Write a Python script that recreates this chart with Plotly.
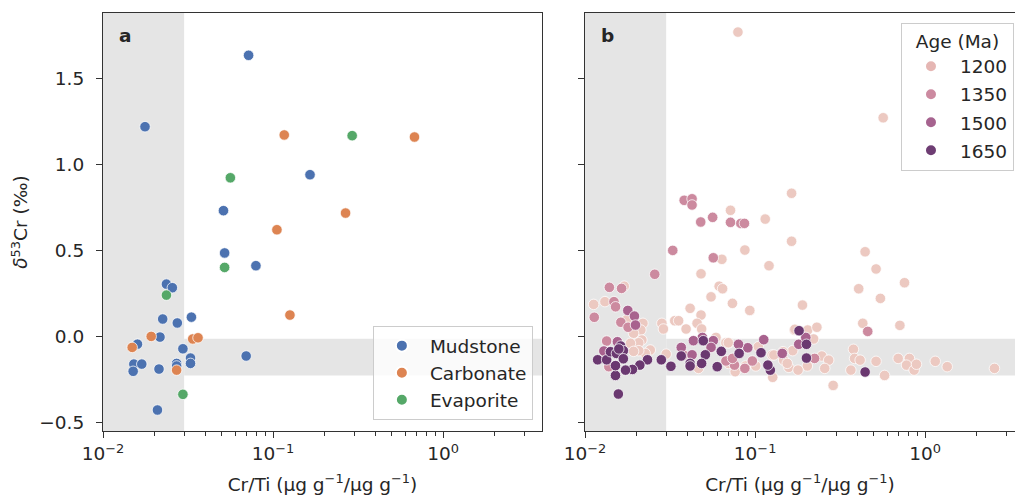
import plotly.graph_objects as go

# ---------------- Panel a data (Cr/Ti, d53Cr) ----------------
mud_x = [0.0718, 0.01766, 0.165, 0.0511, 0.0519, 0.0793, 0.0236, 0.02557, 0.02244, 0.02735,
         0.0331, 0.02163, 0.01595, 0.0295, 0.01518, 0.0169, 0.01504, 0.02134, 0.0271, 0.0271,
         0.0327, 0.0327, 0.0695, 0.0209]
mud_y = [1.632, 1.217, 0.938, 0.729, 0.483, 0.409, 0.302, 0.281, 0.099, 0.076,
         0.110, -0.006, -0.047, -0.074, -0.163, -0.163, -0.205, -0.192, -0.159, -0.174,
         -0.128, -0.159, -0.116, -0.430]
carb_x = [0.1164, 0.679, 0.267, 0.1054, 0.1257, 0.0192, 0.0337, 0.0362, 0.01484, 0.0271]
carb_y = [1.169, 1.157, 0.715, 0.618, 0.122, -0.002, -0.017, -0.010, -0.066, -0.198]
evap_x = [0.292, 0.0561, 0.0519, 0.0236, 0.0295]
evap_y = [1.165, 0.920, 0.399, 0.238, -0.339]

# ---------------- Panel b data by age group ----------------
age_labels = ["1200", "1350", "1500", "1650"]

a1200_x = [0.0793, 0.567, 0.164, 0.0717, 0.1148, 0.164, 0.0871, 0.444, 0.0638, 0.1208,
           0.515, 0.0481, 0.757, 0.407, 0.0170, 0.0615, 0.0644, 0.546, 0.0551, 0.0736,
           0.0931, 0.190, 0.01124, 0.01309, 0.0415, 0.0481, 0.0456, 0.0485, 0.0337, 0.0355,
           0.0393, 0.0283, 0.0289, 0.01752, 0.0219, 0.0213, 0.0193, 0.0216, 0.0207, 0.0185,
           0.0242, 0.0226, 0.0207, 0.0193, 0.0300, 0.0674, 0.0702, 0.0589, 0.170, 0.204,
           0.231, 0.221, 0.1045, 0.126, 0.0764, 0.288, 0.379, 0.385, 0.415, 0.366,
           0.515, 0.578, 0.695, 0.809, 0.778, 0.862, 0.890, 1.148, 1.35, 2.56,
           0.430, 0.711, 0.0465, 0.127, 0.129, 0.1473, 0.158, 0.1665, 0.1546, 0.1715,
           0.203, 0.179, 0.247, 0.271, 0.257, 0.146, 0.0696, 0.088, 0.101, 0.0697]
a1200_y = [1.767, 1.269, 0.830, 0.731, 0.680, 0.551, 0.500, 0.490, 0.446, 0.409,
           0.390, 0.362, 0.310, 0.275, 0.290, 0.290, 0.275, 0.219, 0.228, 0.190,
           0.149, 0.180, 0.184, 0.200, 0.161, 0.122, 0.074, 0.041, 0.089, 0.089,
           0.041, 0.074, 0.041, 0.093, 0.074, 0.035, 0.016, -0.023, -0.039, -0.042,
           -0.081, -0.101, -0.085, -0.089, -0.105, -0.039, -0.039, -0.008, 0.035, 0.035,
           0.051, -0.017, -0.062, -0.110, -0.207, -0.287, -0.077, -0.130, -0.140, -0.198,
           -0.147, -0.229, -0.130, -0.130, -0.169, -0.198, -0.164, -0.147, -0.178, -0.188,
           0.074, 0.062, -0.188, -0.240, -0.110, -0.140, -0.182, -0.085, -0.159, 0.039,
           -0.174, -0.198, -0.116, -0.140, -0.188, -0.091, -0.039, -0.174, -0.174, -0.159]

a1350_x = [0.0383, 0.0426, 0.0426, 0.0479, 0.0563, 0.0717, 0.0825, 0.0866, 0.0328, 0.0568,
           0.0257, 0.0139, 0.0164, 0.01133, 0.01479, 0.01512, 0.01624, 0.01791, 0.460, 0.0134,
           0.0138, 0.0871, 0.0964, 0.0757, 0.0674, 0.0737, 0.224, 0.0379]
a1350_y = [0.789, 0.798, 0.762, 0.663, 0.690, 0.661, 0.655, 0.655, 0.498, 0.455,
           0.359, 0.283, 0.277, 0.109, 0.200, 0.170, 0.080, 0.051, 0.027, -0.029,
           -0.178, -0.188, -0.145, -0.169, -0.145, -0.130, -0.130, -0.110]

a1500_x = [0.01785, 0.01953, 0.0198, 0.0155, 0.0129, 0.1807, 0.1988, 0.1125, 0.1445, 0.0906,
           0.0799, 0.0568, 0.0490, 0.0551, 0.0434, 0.0426, 0.0368]
a1500_y = [0.149, 0.116, 0.064, -0.033, -0.087, -0.048, -0.008, -0.021, -0.101, -0.068,
           -0.048, -0.027, -0.008, -0.066, -0.027, -0.109, -0.066]

a1650_x = [0.444, 0.1815, 0.2006, 0.2006, 0.123, 0.119, 0.1084, 0.0806, 0.0633, 0.0599,
           0.0496, 0.0510, 0.0485, 0.0415, 0.0415, 0.0368, 0.0320, 0.0281, 0.0233, 0.0210,
           0.0190, 0.0173, 0.0151, 0.0157, 0.01186, 0.0134, 0.0162, 0.0168, 0.0141, 0.0153,
           0.0168, 0.0151, 0.0158]
a1650_y = [-0.209, 0.031, -0.048, -0.128, -0.198, -0.169, -0.097, -0.101, -0.089, -0.178,
           -0.027, -0.109, -0.159, -0.159, -0.174, -0.116, -0.176, -0.138, -0.138, -0.169,
           -0.194, -0.198, -0.229, -0.337, -0.138, -0.138, -0.058, -0.085, -0.091, -0.101,
           -0.132, -0.172, -0.075]

# ---------------- styling ----------------
FONT = "DejaVu Sans"
FS = 18.5
TXT = "#262626"
SPINE = "#333333"
BAND = "#E5E5E5"
MS = 10.5
X_MAX_A = 0.582
X_MAX_B = 0.529
Y_RANGE = [-0.552, 1.878]
BAND_X = 0.03
BAND_Y = [-0.23, -0.015]

type_colors = {"Mudstone": "#4C72B0", "Carbonate": "#DD8452", "Evaporite": "#55A868"}
age_point_colors = {"1200": "#ECC9C1", "1350": "#CC8A9F", "1500": "#A8628E", "1650": "#6A3870"}
age_legend_colors = {"1200": "#E5B6B3", "1350": "#CC8AA0", "1500": "#A6638F", "1650": "#6E3D73"}

fig = go.Figure()

for name, xs, ys in [("Mudstone", mud_x, mud_y), ("Carbonate", carb_x, carb_y),
                     ("Evaporite", evap_x, evap_y)]:
    fig.add_trace(go.Scatter(
        x=xs, y=ys, mode="markers", name=name, legend="legend", legendgroup=name,
        marker=dict(size=MS, color=type_colors[name], line=dict(color="white", width=0.75)),
        xaxis="x", yaxis="y"))

for lab, xs, ys in zip(age_labels, [a1200_x, a1350_x, a1500_x, a1650_x],
                       [a1200_y, a1350_y, a1500_y, a1650_y]):
    fig.add_trace(go.Scatter(
        x=xs, y=ys, mode="markers", name=lab, showlegend=False,
        marker=dict(size=MS, color=age_point_colors[lab], line=dict(color="white", width=0.75)),
        xaxis="x2", yaxis="y2"))
for lab in age_labels:
    fig.add_trace(go.Scatter(
        x=[None], y=[None], mode="markers", name=lab, legend="legend2", legendgroup="g" + lab,
        marker=dict(size=MS, color=age_legend_colors[lab], line=dict(color="white", width=0.75)),
        xaxis="x2", yaxis="y2"))

# grey reference bands
for xr, yr, xmax in [("x", "y", X_MAX_A), ("x2", "y2", X_MAX_B)]:
    fig.add_shape(type="rect", xref=xr, yref=yr + " domain", x0=0.01, x1=BAND_X, y0=0, y1=1,
                  fillcolor=BAND, line_width=0, layer="below")
    fig.add_shape(type="rect", xref=xr, yref=yr, x0=BAND_X, x1=10 ** xmax,
                  y0=BAND_Y[0], y1=BAND_Y[1], fillcolor=BAND, line_width=0, layer="below")

minor_vals = [m * 10 ** e for e in (-2, -1, 0) for m in range(2, 10)]
xtitle = "Cr/Ti (μg g<sup>−1</sup>/μg g<sup>−1</sup>)"
xcommon = dict(type="log", tickvals=[0.01, 0.1, 1],
               ticktext=["10<sup>−2</sup>", "10<sup>−1</sup>", "10<sup>0</sup>"],
               ticks="outside", ticklen=6, tickwidth=1.1, tickcolor=SPINE,
               showline=True, linecolor=SPINE, linewidth=1.2, mirror=True,
               showgrid=False, zeroline=False, automargin=False,
               tickfont=dict(family=FONT, size=FS, color=TXT),
               title=dict(text=xtitle, font=dict(family=FONT, size=FS, color=TXT), standoff=14),
               minor=dict(ticks="outside", ticklen=3.5, tickwidth=0.9, tickcolor=SPINE,
                          tickvals=minor_vals, showgrid=False))
ycommon = dict(range=Y_RANGE, tickvals=[-0.5, 0, 0.5, 1.0, 1.5],
               ticktext=["−0.5", "0.0", "0.5", "1.0", "1.5"],
               ticks="outside", ticklen=6, tickwidth=1.1, tickcolor=SPINE,
               showline=True, linecolor=SPINE, linewidth=1.2,
               showgrid=False, zeroline=False, automargin=False,
               tickfont=dict(family=FONT, size=FS, color=TXT))

fig.update_layout(
    width=1015, height=497,
    margin=dict(l=0, r=0, t=13, b=66),
    paper_bgcolor="white", plot_bgcolor="white",
    font=dict(family=FONT, size=FS, color=TXT),
    xaxis=dict(domain=[0.1015, 0.534], range=[-2, X_MAX_A], anchor="y", **xcommon),
    yaxis=dict(domain=[0, 1], anchor="x", mirror=True, ticklabelstandoff=8,
               title=dict(text="<i>δ</i><sup>53</sup>Cr (‰)",
                          font=dict(family=FONT, size=FS, color=TXT), standoff=6),
               **ycommon),
    xaxis2=dict(domain=[0.5764, 1.0], range=[-2, X_MAX_B], anchor="y2", **xcommon),
    yaxis2=dict(domain=[0, 1], anchor="x2", mirror=False, showticklabels=False, **ycommon),
    legend=dict(x=0.525, y=0.026, xanchor="right", yanchor="bottom",
                bgcolor="rgba(255,255,255,0.8)", bordercolor="#CCCCCC", borderwidth=1,
                font=dict(family=FONT, size=FS, color=TXT), itemsizing="constant",
                itemwidth=46, tracegroupgap=0),
    legend2=dict(x=0.999, y=0.977, xanchor="right", yanchor="top",
                 bgcolor="rgba(255,255,255,0.8)", bordercolor="#CCCCCC", borderwidth=1,
                 font=dict(family=FONT, size=FS, color=TXT), itemsizing="constant",
                 itemwidth=48, tracegroupgap=1,
                 title=dict(text="Age (Ma)", side="top center",
                            font=dict(family=FONT, size=FS, color=TXT))),
    annotations=[
        dict(text="<b>a</b>", xref="x domain", yref="y domain", x=0.032, y=0.947,
             xanchor="left", yanchor="middle", showarrow=False,
             font=dict(family=FONT, size=18.5, color=TXT)),
        dict(text="<b>b</b>", xref="x2 domain", yref="y2 domain", x=0.032, y=0.947,
             xanchor="left", yanchor="middle", showarrow=False,
             font=dict(family=FONT, size=18.5, color=TXT)),
    ],
)

fig.write_html("out.html")
